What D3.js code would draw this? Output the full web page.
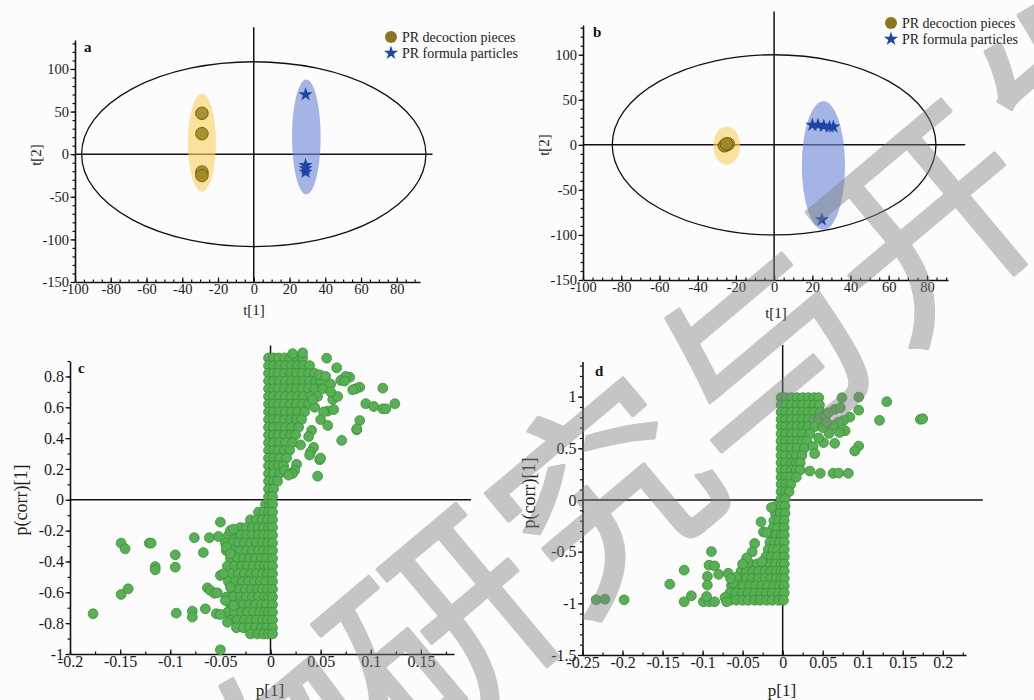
<!DOCTYPE html>
<html>
<head>
<meta charset="utf-8">
<script src="https://cdn.jsdelivr.net/npm/d3@7"></script>
<style>
  body { margin: 0; background: #fff; }
  svg { display: block; }
</style>
</head>
<body>
<script>
// ---------- data ----------
// score plots a / b
var groupNames = ["PR decoction pieces", "PR formula particles"];
var piecesA = [[-29, 48], [-29, 24], [-29, -21], [-29, -25]];
var particlesA = [[29, 70], [29, -13], [29, -17], [29, -21]];
var piecesB = [[-25, 0], [-26, -1], [-24, 1], [-25, 1]];
var particlesB = [[20, 22], [23, 22], [26, 21], [29, 20], [31, 20], [25, -83]];
// [cx, cy, rx, ry] in score units
var t2A = [0, 0, 96.3, 108.5], t2B = [0, 0, 84.7, 100];
var grpEllA = [[-29, 13.5, 7.8, 57.6], [29.4, 20.2, 8, 67.4]];
var grpEllB = [[-24.8, -1, 7, 21], [25.8, -23, 11.3, 71.3]];

// loading plots c / d : dense cloud rows [p(corr), [p values]] and scattered points
var cloudC = [
  [0.92, [-0.002, 0.003, 0.008, 0.014, 0.02, 0.026, 0.032]],
  [0.87, [-0.002, 0.003, 0.009, 0.015, 0.021, 0.027, 0.033, 0.039]],
  [0.82, [-0.002, 0.003, 0.008, 0.014, 0.02, 0.026, 0.032, 0.038, 0.044]],
  [0.77, [-0.002, 0.003, 0.009, 0.015, 0.021, 0.027, 0.033, 0.039, 0.045, 0.05]],
  [0.72, [-0.002, 0.003, 0.008, 0.014, 0.02, 0.026, 0.032, 0.038, 0.044, 0.052]],
  [0.67, [-0.002, 0.003, 0.009, 0.015, 0.021, 0.027, 0.033, 0.04, 0.047]],
  [0.62, [-0.002, 0.003, 0.008, 0.014, 0.02, 0.026, 0.032, 0.038]],
  [0.57, [-0.002, 0.003, 0.009, 0.015, 0.021, 0.027, 0.034]],
  [0.52, [-0.002, 0.003, 0.008, 0.014, 0.02, 0.026, 0.031]],
  [0.47, [-0.002, 0.003, 0.009, 0.015, 0.021, 0.028]],
  [0.42, [-0.002, 0.003, 0.008, 0.014, 0.02, 0.025]],
  [0.37, [-0.002, 0.003, 0.009, 0.015, 0.022]],
  [0.32, [-0.002, 0.003, 0.008, 0.014, 0.019]],
  [0.27, [-0.002, 0.003, 0.009, 0.016]],
  [0.22, [-0.002, 0.003, 0.008, 0.013]],
  [0.17, [-0.002, 0.003, 0.009]],
  [0.12, [-0.002, 0.003, 0.007]],
  [0.07, [-0.002, 0.003]],
  [0.02, [-0.002, 0.002]],
  [-0.03, [-0.005, -0.001, 0.002]],
  [-0.08, [-0.012, -0.007, -0.002, 0.002]],
  [-0.13, [-0.02, -0.014, -0.008, -0.003, 0.002]],
  [-0.18, [-0.03, -0.024, -0.018, -0.012, -0.007, -0.002, 0.002]],
  [-0.23, [-0.042, -0.036, -0.03, -0.024, -0.018, -0.012, -0.007, -0.002, 0.002]],
  [-0.28, [-0.045, -0.038, -0.032, -0.026, -0.02, -0.014, -0.008, -0.003, 0.002]],
  [-0.33, [-0.044, -0.037, -0.03, -0.024, -0.018, -0.012, -0.007, -0.002, 0.002]],
  [-0.38, [-0.04, -0.033, -0.027, -0.021, -0.015, -0.009, -0.004, 0.002]],
  [-0.43, [-0.043, -0.036, -0.029, -0.023, -0.017, -0.011, -0.006, -0.002, 0.002]],
  [-0.48, [-0.039, -0.032, -0.026, -0.02, -0.014, -0.008, -0.003, 0.002]],
  [-0.53, [-0.042, -0.035, -0.028, -0.022, -0.016, -0.01, -0.005, 0.002]],
  [-0.58, [-0.038, -0.031, -0.025, -0.019, -0.013, -0.008, -0.003, 0.002]],
  [-0.63, [-0.044, -0.037, -0.03, -0.024, -0.018, -0.012, -0.006, -0.002, 0.002]],
  [-0.68, [-0.04, -0.033, -0.027, -0.021, -0.015, -0.009, -0.004, 0.002]],
  [-0.73, [-0.043, -0.036, -0.029, -0.023, -0.017, -0.011, -0.006, -0.002, 0.002]],
  [-0.78, [-0.04, -0.033, -0.026, -0.02, -0.014, -0.008, -0.003, 0.002]],
  [-0.83, [-0.034, -0.027, -0.021, -0.015, -0.009, -0.004, 0.002]],
  [-0.87, [-0.02, -0.013, -0.007, -0.002, 0.002]]
];
var scatterC = [
  [-0.177, -0.739], [-0.149, -0.281], [-0.145, -0.318], [-0.149, -0.614], [-0.142, -0.577],
  [-0.121, -0.281], [-0.119, -0.281], [-0.115, -0.433], [-0.115, -0.454], [-0.095, -0.357],
  [-0.095, -0.437], [-0.094, -0.735], [-0.076, -0.246], [-0.078, -0.722], [-0.078, -0.761],
  [-0.067, -0.342], [-0.065, -0.707], [-0.061, -0.246], [-0.063, -0.571], [-0.06, -0.588],
  [-0.056, -0.606], [-0.053, -0.603], [-0.054, -0.739], [-0.05, -0.744], [-0.05, -0.145],
  [-0.052, -0.238], [-0.05, -0.491], [-0.047, -0.48], [-0.05, -0.973], [-0.045, -0.653],
  [-0.043, -0.794], [-0.04, -0.2], [-0.037, -0.19], [-0.044, -0.307], [-0.04, -0.35],
  [-0.04, -0.567], [-0.037, -0.686],
  [0.056, 0.918], [0.066, 0.856], [0.079, 0.795], [0.075, 0.8], [0.089, 0.73], [0.085, 0.72],
  [0.112, 0.724], [0.095, 0.623], [0.103, 0.605], [0.112, 0.59], [0.115, 0.59], [0.124, 0.623],
  [0.089, 0.514], [0.086, 0.454], [0.086, 0.46], [0.071, 0.385], [0.057, 0.482], [0.057, 0.575],
  [0.053, 0.57], [0.063, 0.585], [0.047, 0.153], [0.043, 0.34], [0.04, 0.31], [0.039, 0.29],
  [0.03, 0.356], [0.026, 0.23], [0.024, 0.19], [0.022, 0.17], [0.014, 0.19], [0.018, 0.16],
  [0.032, 0.953], [0.022, 0.947], [0.049, 0.81], [0.055, 0.8], [0.07, 0.774], [0.074, 0.77],
  [0.082, 0.713], [0.062, 0.65], [0.067, 0.67], [0.041, 0.45], [0.038, 0.41], [0.049, 0.26],
  [0.05, 0.27], [0.06, 0.75], [0.06, 0.7], [0.044, 0.6], [0.042, 0.65], [0.05, 0.52]
];
var cloudD = [
  [0.99, [-0.002, 0.004, 0.011, 0.018, 0.025, 0.032, 0.039, 0.045]],
  [0.92, [-0.002, 0.004, 0.011, 0.018, 0.025, 0.032, 0.039, 0.046]],
  [0.85, [-0.002, 0.004, 0.011, 0.018, 0.025, 0.032, 0.039, 0.047]],
  [0.78, [-0.002, 0.004, 0.011, 0.018, 0.025, 0.032, 0.039, 0.045]],
  [0.71, [-0.002, 0.004, 0.011, 0.018, 0.025, 0.032, 0.04]],
  [0.64, [-0.002, 0.004, 0.011, 0.018, 0.025, 0.034]],
  [0.57, [-0.002, 0.004, 0.011, 0.018, 0.025, 0.03]],
  [0.5, [-0.002, 0.004, 0.011, 0.018, 0.027]],
  [0.43, [-0.002, 0.004, 0.011, 0.017, 0.024]],
  [0.36, [-0.002, 0.004, 0.011, 0.017, 0.022]],
  [0.29, [-0.002, 0.004, 0.011, 0.017, 0.022]],
  [0.22, [-0.002, 0.004, 0.01, 0.017]],
  [0.15, [-0.002, 0.004, 0.01]],
  [0.08, [-0.002, 0.004, 0.008]],
  [0.01, [-0.002, 0.003]],
  [-0.06, [-0.008, -0.002, 0.003]],
  [-0.13, [-0.009, -0.003, 0.003]],
  [-0.2, [-0.011, -0.005, 0.002]],
  [-0.27, [-0.012, -0.006, 0.002]],
  [-0.34, [-0.014, -0.008, -0.002, 0.002]],
  [-0.41, [-0.016, -0.01, -0.004, 0.002]],
  [-0.48, [-0.018, -0.012, -0.006, 0.002]],
  [-0.55, [-0.021, -0.014, -0.007, 0.002]],
  [-0.62, [-0.04, -0.032, -0.024, -0.016, -0.009, -0.002, 0.002]],
  [-0.69, [-0.052, -0.045, -0.037, -0.03, -0.022, -0.015, -0.008, -0.002, 0.002]],
  [-0.76, [-0.06, -0.053, -0.045, -0.038, -0.03, -0.022, -0.015, -0.008, -0.002, 0.002]],
  [-0.83, [-0.064, -0.056, -0.049, -0.041, -0.034, -0.026, -0.019, -0.011, -0.004, 0.002]],
  [-0.9, [-0.066, -0.058, -0.05, -0.043, -0.035, -0.028, -0.02, -0.013, -0.005, 0.002]],
  [-0.97, [-0.066, -0.058, -0.05, -0.043, -0.035, -0.028, -0.02, -0.013, -0.005, 0.001]]
];
var scatterD = [
  [-0.233, -0.966], [-0.222, -0.96], [-0.198, -0.966], [-0.141, -0.815], [-0.123, -0.679],
  [-0.123, -0.985], [-0.114, -0.927], [-0.089, -0.499], [-0.092, -0.631], [-0.085, -0.638],
  [-0.094, -0.74], [-0.08, -0.72], [-0.094, -0.824], [-0.099, -0.985], [-0.092, -0.985],
  [-0.085, -0.985], [-0.095, -0.934], [-0.072, -0.943], [-0.07, -0.985], [-0.068, -0.709],
  [-0.058, -0.748], [-0.027, -0.212], [-0.024, -0.309], [-0.02, -0.315], [-0.014, -0.073],
  [-0.035, -0.421], [-0.038, -0.502], [-0.026, -0.599], [-0.045, -0.56], [-0.05, -0.62],
  [-0.062, -0.8], [-0.065, -0.76],
  [0.074, 0.989], [0.095, 0.996], [0.13, 0.951], [0.065, 0.876], [0.072, 0.893], [0.095, 0.869],
  [0.084, 0.802], [0.121, 0.77], [0.172, 0.78], [0.175, 0.786], [0.076, 0.769], [0.07, 0.753],
  [0.063, 0.72], [0.078, 0.67], [0.071, 0.653], [0.058, 0.644], [0.051, 0.555], [0.065, 0.548],
  [0.095, 0.522], [0.09, 0.474], [0.038, 0.516], [0.04, 0.448], [0.053, 0.812], [0.057, 0.845],
  [0.047, 0.258], [0.063, 0.258], [0.07, 0.26], [0.082, 0.258], [0.034, 0.28], [0.05, 0.7],
  [0.045, 0.6], [0.055, 0.75]
];

// tick labels
var xTicksAB = [-100, -80, -60, -40, -20, 0, 20, 40, 60, 80];
var yTicksAB = [-150, -100, -50, 0, 50, 100];
var xTicksC = [-0.2, -0.15, -0.1, -0.05, 0, 0.05, 0.1, 0.15];
var yTicksC = [-1, -0.8, -0.6, -0.4, -0.2, 0, 0.2, 0.4, 0.6, 0.8];
var xTicksD = [-0.25, -0.2, -0.15, -0.1, -0.05, 0, 0.05, 0.1, 0.15, 0.2];
var yTicksD = [-1.5, -1, -0.5, 0, 0.5, 1];

// ---------- drawing ----------
var serif = '"Liberation Serif", "Times New Roman", serif';
var svg = d3.select("body").append("svg").attr("width", 1034).attr("height", 700);
svg.append("rect").attr("width", 1034).attr("height", 700).attr("fill", "#fcfcfc");

function panel(p) {
  var x = d3.scaleLinear().domain(p.xDom).range(p.xRange);
  var y = d3.scaleLinear().domain(p.yDom).range(p.yRange);
  var g = svg.append("g");

  // reference cross lines
  g.append("line").attr("x1", x(p.xDom[0])).attr("x2", x(p.hEnd)).attr("y1", y(0)).attr("y2", y(0))
    .attr("stroke", "#111").attr("stroke-width", 1.5);
  g.append("line").attr("x1", x(0)).attr("x2", x(0)).attr("y1", y(p.yDom[0])).attr("y2", y(p.vEnd))
    .attr("stroke", "#111").attr("stroke-width", 1.5);

  // minor ticks
  g.append("g").attr("transform", "translate(0," + p.yRange[0] + ")")
    .call(d3.axisBottom(x).tickValues(p.xMinor).tickSizeInner(-2.5).tickSizeOuter(0).tickFormat(""))
    .call(s => s.select(".domain").remove());
  g.append("g").attr("transform", "translate(" + p.xRange[0] + ",0)")
    .call(d3.axisLeft(y).tickValues(p.yMinor).tickSize(2.5).tickFormat(""))
    .call(s => s.select(".domain").remove());
  // major axes
  var xa = g.append("g").attr("transform", "translate(0," + p.yRange[0] + ")")
    .call(d3.axisBottom(x).tickValues(p.xTicks).tickSizeInner(-4.5).tickSizeOuter(0).tickPadding(2)
      .tickFormat(d => String(d)));
  var ya = g.append("g").attr("transform", "translate(" + p.xRange[0] + ",0)")
    .call(d3.axisLeft(y).tickValues(p.yTicks).tickSizeInner(4.5).tickSizeOuter(0).tickPadding(1.5)
      .tickFormat(d => String(d)));
  [xa, ya].forEach(a => {
    a.attr("font-family", serif).attr("font-size", p.tickSize);
    a.selectAll(".tick text").attr("fill", "#1a1a1a");
    a.select(".domain").attr("stroke", "#111").attr("stroke-width", 1.6);
  });
  g.selectAll(".tick line").attr("stroke", "#111").attr("stroke-width", 1.2);

  // titles
  g.append("text").attr("x", p.xLab[0]).attr("y", p.xLab[1]).attr("text-anchor", "middle")
    .attr("font-family", serif).attr("font-size", p.titleSize[0]).attr("fill", "#222").text(p.xTitle);
  g.append("text").attr("transform", "translate(" + p.yLab[0] + "," + p.yLab[1] + ") rotate(-90)")
    .attr("text-anchor", "middle").attr("font-family", serif).attr("font-size", p.titleSize[1]).attr("fill", "#222")
    .text(p.yTitle);
  g.append("text").attr("x", p.letter[0]).attr("y", p.letter[1]).attr("font-family", serif)
    .attr("font-weight", "bold").attr("font-size", 15).attr("fill", "#111").text(p.name);
  return { g: g, x: x, y: y };
}

var pieceFill = "#a08826", pieceStroke = "#6b5a12", starFill = "#1d44a6";
var yellowFill = "rgba(250,208,95,0.62)", blueFill = "rgba(110,135,215,0.62)";

function scorePlot(P, t2, ells, pieces, particles, legendXY) {
  var x = P.x, y = P.y, g = P.g;
  var ell = (e) => g.append("ellipse").attr("cx", x(e[0])).attr("cy", y(e[1]))
    .attr("rx", x(e[0] + e[2]) - x(e[0])).attr("ry", y(e[1]) - y(e[1] + e[3]));
  ell(t2).attr("fill", "none").attr("stroke", "#111").attr("stroke-width", 1.3).lower();
  ell(ells[0]).attr("fill", yellowFill);
  ell(ells[1]).attr("fill", blueFill);
  g.selectAll(".piece").data(pieces).join("circle").attr("class", "piece")
    .attr("cx", d => x(d[0])).attr("cy", d => y(d[1])).attr("r", 6.3)
    .attr("fill", pieceFill).attr("stroke", pieceStroke).attr("stroke-width", 0.9).attr("fill-opacity", 0.9);
  var star = d3.symbol().type(d3.symbolStar).size(62);
  g.selectAll(".part").data(particles).join("path").attr("class", "part")
    .attr("transform", d => "translate(" + x(d[0]) + "," + y(d[1]) + ")")
    .attr("d", star).attr("fill", starFill);
  // legend
  var lg = g.append("g").attr("transform", "translate(" + legendXY[0] + "," + legendXY[1] + ")");
  lg.append("circle").attr("cx", 0).attr("cy", 0).attr("r", 6).attr("fill", "#86781c");
  lg.append("path").attr("transform", "translate(0,16)").attr("d", star).attr("fill", starFill);
  groupNames.forEach((n, i) => {
    lg.append("text").attr("x", 11).attr("y", 4.8 + 16 * i).attr("font-family", serif)
      .attr("font-size", 14).attr("fill", "#222").text(n);
  });
}

function loadingPlot(P, cloud, scatter) {
  var pts = [];
  cloud.forEach(r => r[1].forEach(v => pts.push([v, r[0]])));
  scatter.forEach(d => pts.push(d));
  P.g.append("g").selectAll("circle").data(pts).join("circle")
    .attr("cx", d => P.x(d[0])).attr("cy", d => P.y(d[1])).attr("r", 4.9)
    .attr("fill", "#56b153").attr("stroke", "#3c8c3a").attr("stroke-width", 0.8);
}

var A = panel({ name: "a", xDom: [-100, 93], xRange: [75, 420], yDom: [-150, 134], yRange: [282, 40],
  hEnd: 100, vEnd: 149, xTicks: xTicksAB, yTicks: yTicksAB, tickSize: 14.5, titleSize: [15, 15],
  xMinor: d3.range(-100, 93, 5), yMinor: d3.range(-150, 134, 10),
  xTitle: "t[1]", yTitle: "t[2]", xLab: [254, 315], yLab: [41, 155], letter: [84, 52] });
scorePlot(A, t2A, grpEllA, piecesA, particlesA, [391, 37]);

var B = panel({ name: "b", xDom: [-100, 91], xRange: [583, 948], yDom: [-150, 133], yRange: [280, 25],
  hEnd: 100, vEnd: 148, xTicks: xTicksAB, yTicks: yTicksAB, tickSize: 14.5, titleSize: [15, 15],
  xMinor: d3.range(-100, 91, 5), yMinor: d3.range(-150, 133, 10),
  xTitle: "t[1]", yTitle: "t[2]", xLab: [776, 318], yLab: [549, 145], letter: [593, 37] });
scorePlot(B, t2B, grpEllB, piecesB, particlesB, [891, 23]);

var C = panel({ name: "c", xDom: [-0.2, 0.183], xRange: [70, 454], yDom: [-1, 0.9], yRange: [654, 361],
  hEnd: 0.2, vEnd: 1.0, xTicks: xTicksC, yTicks: yTicksC, tickSize: 16, titleSize: [17, 18],
  xMinor: d3.range(-200, 183, 25).map(v => v / 1000), yMinor: d3.range(-10, 10, 1).map(v => v / 10),
  xTitle: "p[1]", yTitle: "p(corr)[1]", xLab: [270, 696], yLab: [27, 500], letter: [78, 373] });
loadingPlot(C, cloudC, scatterC);

var D = panel({ name: "d", xDom: [-0.25, 0.229], xRange: [582.5, 966], yDom: [-1.5, 1.34], yRange: [655, 361.5],
  hEnd: 0.25, vEnd: 1.5, xTicks: xTicksD, yTicks: yTicksD, tickSize: 16, titleSize: [17, 18],
  xMinor: d3.range(-250, 229, 25).map(v => v / 1000), yMinor: d3.range(-15, 14, 1).map(v => v / 10),
  xTitle: "p[1]", yTitle: "p(corr)[1]", xLab: [782, 696], yLab: [535, 493], letter: [595, 376] });
loadingPlot(D, cloudD, scatterD);

// watermark of the source journal
svg.append("text").attr("transform", "translate(432,620) rotate(-40)")
  .attr("text-anchor", "middle").attr("dominant-baseline", "central")
  .attr("font-family", '"Noto Sans CJK SC"').attr("font-size", 212)
  .attr("fill", "#808080").attr("stroke", "#808080").attr("stroke-width", 3.5)
  .attr("stroke-linejoin", "round").attr("opacity", 0.44).text("天然产物研究与开发");
</script>
</body>
</html>
